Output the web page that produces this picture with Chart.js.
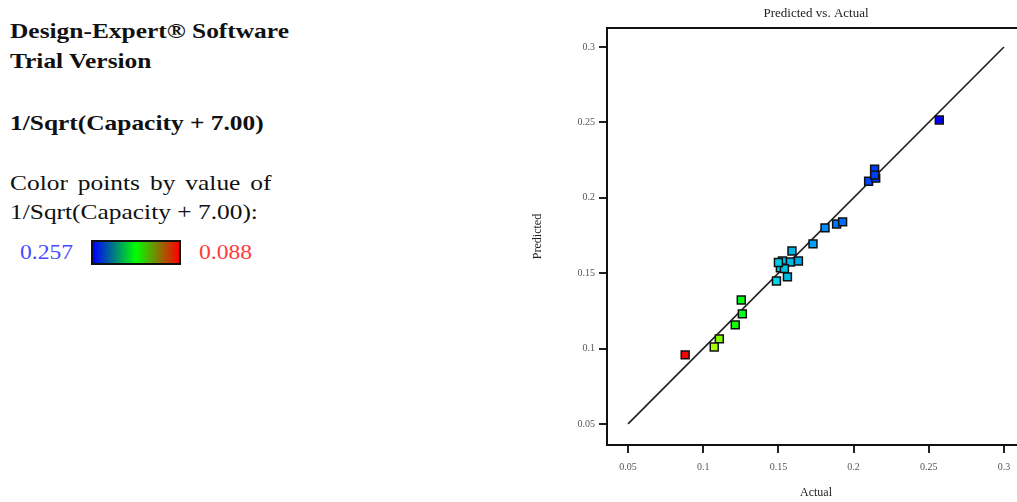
<!DOCTYPE html>
<html>
<head>
<meta charset="utf-8">
<script src="https://cdn.jsdelivr.net/npm/chart.js@4.4.0/dist/chart.umd.min.js"></script>
<style>
  html, body { margin: 0; padding: 0; background: #fff; overflow: hidden; width: 1017px; height: 502px; }
  .side { position: absolute; left: 10px; top: 0; font-family: "Liberation Serif", "Times New Roman", serif; color: #111; }
  .b, .r { font-size: 21px; position: absolute; white-space: nowrap; transform: scaleX(1.21); transform-origin: 0 0; }
  .b { font-weight: bold; }
  .legend { position: absolute; top: 240px; left: 0; height: 26px; width: 300px; font-size: 20px; }
  .legend span { position: absolute; top: 1px; transform: scaleX(1.18); transform-origin: 0 0; }
  .bar { position: absolute; left: 81px; top: 0; width: 86px; height: 21px; border: 2px solid #111;
         background: linear-gradient(to right, #0000ff, #00ff00 50%, #ff0000); }
  #wrap { position: absolute; left: 520px; top: 0; width: 520px; height: 502px; }
</style>
</head>
<body>
<div class="side">
  <div class="b" style="top:19px">Design-Expert® Software</div>
  <div class="b" style="top:49px">Trial Version</div>
  <div class="b" style="top:111px">1/Sqrt(Capacity + 7.00)</div>
  <div class="r" style="top:171px;word-spacing:3px">Color points by value of</div>
  <div class="r" style="top:200px">1/Sqrt(Capacity + 7.00):</div>
  <div class="legend">
    <span style="left:10px;color:#4a4aff">0.257</span>
    <div class="bar"></div>
    <span style="left:189px;color:#ff3b3b">0.088</span>
  </div>
</div>
<div id="wrap"><canvas id="myChart" width="520" height="502"></canvas></div>
<script>
let actual = [0.257, 0.214, 0.210, 0.2147, 0.214, 0.181, 0.1887, 0.1927, 0.173,
  0.159, 0.1527, 0.158, 0.1633, 0.1513, 0.154, 0.156, 0.1487, 0.150,
  0.1253, 0.126, 0.1213, 0.1107, 0.1073, 0.088]
let predicted = [0.2516, 0.219, 0.211, 0.213, 0.215, 0.180, 0.1826, 0.184, 0.1694,
  0.1647, 0.158, 0.1574, 0.158, 0.1535, 0.153, 0.1475, 0.1448, 0.157,
  0.1322, 0.123, 0.1157, 0.1064, 0.101, 0.0958]
let xTicks = [0.05, 0.1, 0.15, 0.2, 0.25, 0.3]
let yTicks = [0.05, 0.1, 0.15, 0.2, 0.25, 0.3]
let fitLine = [0.05, 0.3]

// colour ramp by value (red low -> blue high)
let hueStops = [[0.088, 0], [0.107, 80], [0.125, 125], [0.15, 187], [0.18, 207], [0.21, 224], [0.257, 240]]
function pointColor(v) {
  for (let i = 1; i < hueStops.length; i++) {
    if (v <= hueStops[i][0]) {
      let a = hueStops[i - 1], b = hueStops[i]
      let t = (v - a[0]) / (b[0] - a[0])
      let h = a[1] + t * (b[1] - a[1])
      let l = h > 150 && h < 200 ? 45 : 50
      return "hsl(" + h + ",100%," + l + "%)"
    }
  }
  return "hsl(240,100%,50%)"
}

let serif = "'Liberation Serif', 'Times New Roman', serif"

let boxPlugin = {
  id: "box",
  afterDraw(chart) {
    let a = chart.chartArea, c = chart.ctx
    c.save()
    c.strokeStyle = "#111"
    c.lineWidth = 2
    c.strokeRect(a.left, a.top, a.right - a.left, a.bottom - a.top)
    c.restore()
  }
}

let ctx = document.getElementById("myChart").getContext("2d")
let myChart = new Chart(ctx, {
  type: "scatter",
  data: {
    datasets: [
      {
        data: actual.map((v, i) => ({ x: v, y: predicted[i] })),
        pointStyle: "rect",
        pointRadius: 5.6,
        pointBorderWidth: 1.5,
        pointBorderColor: "#111",
        pointBackgroundColor: actual.map(pointColor),
        order: 1
      },
      {
        type: "line",
        data: fitLine.map(v => ({ x: v, y: v })),
        borderColor: "#222",
        borderWidth: 1.7,
        pointRadius: 0,
        order: 2
      }
    ]
  },
  options: {
    responsive: false,
    animation: false,
    layout: { padding: { right: 15 } },
    plugins: {
      legend: { display: false },
      tooltip: { enabled: false },
      title: {
        display: true,
        text: "Predicted vs. Actual",
        fullSize: false,
        color: "#222",
        font: { family: serif, size: 13, weight: "normal", lineHeight: 1.2 },
        padding: { top: 6, bottom: 6.4 }
      }
    },
    scales: {
      x: {
        type: "linear",
        min: 0.036,
        max: 0.314,
        afterFit: s => { s.height = 57 },
        afterBuildTicks: s => { s.ticks = xTicks.map(v => ({ value: v })) },
        border: { display: false },
        grid: { drawOnChartArea: false, drawTicks: true, tickLength: 8, lineWidth: 2, color: "#222" },
        ticks: { color: "#555", padding: 8, maxRotation: 0, font: { family: serif, size: 10 }, callback: v => String(v) },
        title: { display: true, text: "Actual", color: "#222", font: { family: serif, size: 12 }, padding: { top: 0, bottom: 2 } }
      },
      y: {
        type: "linear",
        min: 0.036,
        max: 0.3126,
        afterFit: s => { s.width = 87 },
        afterBuildTicks: s => { s.ticks = yTicks.map(v => ({ value: v })) },
        border: { display: false },
        grid: { drawOnChartArea: false, drawTicks: true, tickLength: 8, lineWidth: 2, color: "#222" },
        ticks: { color: "#555", padding: 4, font: { family: serif, size: 10 }, callback: v => String(v) },
        title: { display: true, text: "Predicted", color: "#222", font: { family: serif, size: 12 }, padding: { top: 11, bottom: 0 } }
      }
    }
  },
  plugins: [boxPlugin]
})
</script>
</body>
</html>
